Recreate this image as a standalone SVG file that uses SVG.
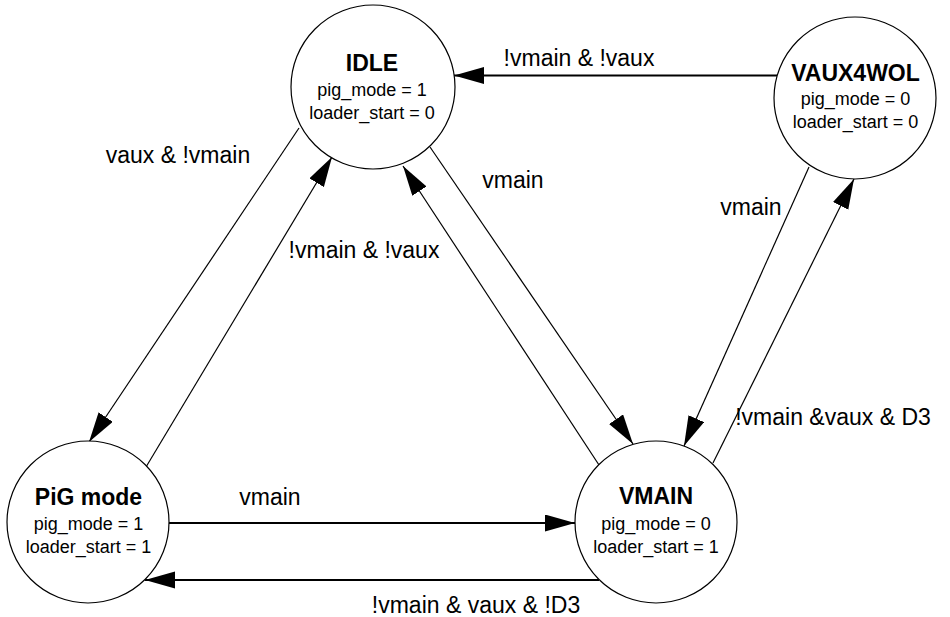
<svg xmlns="http://www.w3.org/2000/svg" width="950" height="617" viewBox="0 0 950 617">
  <style>
    .state { fill: #ffffff; stroke: #000000; stroke-width: 1.2; }
    .title { font-family: "Liberation Sans", Arial, sans-serif; font-size: 23px; font-weight: bold; text-anchor: middle; fill: #000000; }
    .attr { font-family: "Liberation Sans", Arial, sans-serif; font-size: 18px; text-anchor: middle; fill: #000000; }
    .edge { fill: none; stroke: #000000; stroke-width: 1.2; marker-end: url(#arrow); }
    .edge.h { stroke-width: 2; }
    .label { font-family: "Liberation Sans", Arial, sans-serif; font-size: 23px; text-anchor: middle; fill: #000000; }
  </style>
  <defs>
    <marker id="arrow" markerUnits="userSpaceOnUse" markerWidth="31" markerHeight="18" refX="30" refY="8.5" orient="auto">
      <path d="M0,0 L30,8.5 L0,17 z" fill="#000000"/>
    </marker>
  </defs>

  <rect width="950" height="617" fill="#ffffff"/>

  <!-- transitions -->
  <g id="connectors">
    <line class="edge h" x1="777" y1="75.5" x2="454" y2="75.5"/>
    <line class="edge" x1="299" y1="128" x2="89" y2="442"/>
    <line class="edge" x1="146" y1="467" x2="332" y2="157"/>
    <line class="edge" x1="430" y1="147" x2="633" y2="444"/>
    <line class="edge" x1="599" y1="465" x2="403" y2="166"/>
    <line class="edge" x1="809" y1="167" x2="684" y2="446"/>
    <line class="edge" x1="713" y1="463" x2="854" y2="179"/>
    <line class="edge h" x1="169" y1="523" x2="575" y2="523"/>
    <line class="edge h" x1="599" y1="580" x2="145" y2="580"/>

    <text class="label" x="579" y="66">!vmain &amp; !vaux</text>
    <text class="label" x="178" y="163">vaux &amp; !vmain</text>
    <text class="label" x="364" y="258">!vmain &amp; !vaux</text>
    <text class="label" x="513" y="188">vmain</text>
    <text class="label" x="751" y="215">vmain</text>
    <text class="label" x="833" y="425">!vmain &amp;vaux &amp; D3</text>
    <text class="label" x="270" y="505">vmain</text>
    <text class="label" x="476" y="613">!vmain &amp; vaux &amp; !D3</text>
  </g>

  <!-- states -->
  <g id="idle">
    <circle class="state" cx="373" cy="87" r="82"/>
    <text class="title" x="372" y="71">IDLE</text>
    <text class="attr" x="372" y="96">pig_mode = 1</text>
    <text class="attr" x="372" y="119">loader_start = 0</text>
  </g>

  <g id="vaux4wol">
    <circle class="state" cx="855" cy="98" r="81"/>
    <text class="title" x="855.5" y="81">VAUX4WOL</text>
    <text class="attr" x="855.5" y="105">pig_mode = 0</text>
    <text class="attr" x="855.5" y="128">loader_start = 0</text>
  </g>

  <g id="pig-mode">
    <circle class="state" cx="88" cy="522" r="81"/>
    <text class="title" x="88.5" y="505">PiG mode</text>
    <text class="attr" x="88.5" y="530">pig_mode = 1</text>
    <text class="attr" x="88.5" y="553">loader_start = 1</text>
  </g>

  <g id="vmain">
    <circle class="state" cx="656" cy="522" r="81"/>
    <text class="title" x="656" y="504">VMAIN</text>
    <text class="attr" x="656" y="530">pig_mode = 0</text>
    <text class="attr" x="656" y="553">loader_start = 1</text>
  </g>
</svg>
